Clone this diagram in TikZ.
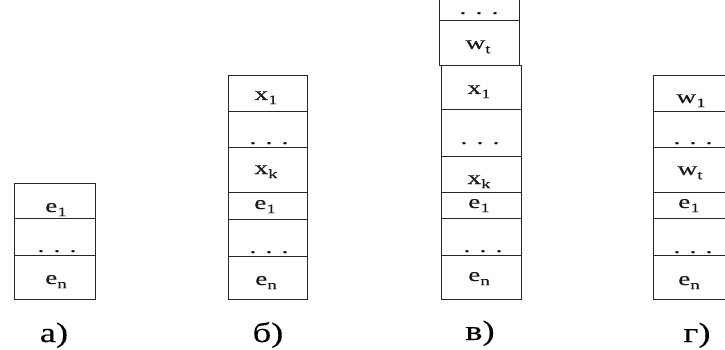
\documentclass[tikz,border=0pt]{standalone}
\usepackage{fontspec}
\setmainfont{Liberation Serif}
\newfontfamily\widefont[FakeStretch=1.45,FakeBold=0.3]{Liberation Serif}
\newfontfamily\capfont[FakeStretch=1.3,FakeBold=0.2]{Liberation Serif}
\newcommand{\sbs}[1]{\raisebox{-0.22em}{\fontsize{13}{13}\selectfont #1}}
\begin{document}
\begin{tikzpicture}[x=1pt,y=-1pt,
  cell/.style={draw=black!85,line width=0.9pt},
  lbl/.style={font=\widefont\fontsize{19}{19}\selectfont,inner sep=0pt,anchor=base,text=black!90},
  figcap/.style={font=\capfont\fontsize{28}{28}\selectfont,inner sep=0pt,anchor=base}]
\useasboundingbox (0,0) rectangle (725,350);
\begin{scope}
\clip (0,0) rectangle (725,350);
% a)
\draw[cell] (14,183) rectangle (95,218);
\draw[cell] (14,218) rectangle (95,255);
\draw[cell] (14,255) rectangle (95,299);
\node[lbl] (a1) at (56,212) {e\sbs{1}};
\node[lbl] (a2) at (57,252) {. . .};
\node[lbl] (a3) at (56,284) {e\sbs{n}};
\node[figcap] (ca) at (54,342) {а)};
% b)
\draw[cell] (228,75) rectangle (307,111);
\draw[cell] (228,111) rectangle (307,147);
\draw[cell] (228,147) rectangle (307,192);
\draw[cell] (228,192) rectangle (307,219);
\draw[cell] (228,219) rectangle (307,256);
\draw[cell] (228,256) rectangle (307,299);
\node[lbl] (b1) at (266,100) {x\sbs{1}};
\node[lbl] (b2) at (269,144) {. . .};
\node[lbl] (b3) at (266,174) {x\sbs{k}};
\node[lbl] (b4) at (265,209) {e\sbs{1}};
\node[lbl] (b5) at (269,253) {. . .};
\node[lbl] (b6) at (266,285) {e\sbs{n}};
\node[figcap] (cb) at (268,342) {б)};
% v)
\draw[cell] (439,-30) rectangle (519,20);
\draw[cell] (439,20) rectangle (519,65);
\draw[cell] (441,65) rectangle (521,109);
\draw[cell] (441,109) rectangle (521,156);
\draw[cell] (441,156) rectangle (521,192);
\draw[cell] (441,192) rectangle (521,218);
\draw[cell] (441,218) rectangle (521,255);
\draw[cell] (441,255) rectangle (521,299);
\node[lbl] (v0) at (479,14) {. . .};
\node[lbl] (v1) at (478,49) {w\sbs{t}};
\node[lbl] (v2) at (479,94) {x\sbs{1}};
\node[lbl] (v3) at (480,144) {. . .};
\node[lbl] (v4) at (479,184) {x\sbs{k}};
\node[lbl] (v5) at (479,208) {e\sbs{1}};
\node[lbl] (v6) at (483,252) {. . .};
\node[lbl] (v7) at (479,281) {e\sbs{n}};
\node[figcap] (cv) at (480,340) {в)};
% g)
\draw[cell] (653,75) rectangle (740,111);
\draw[cell] (653,111) rectangle (740,147);
\draw[cell] (653,147) rectangle (740,192);
\draw[cell] (653,192) rectangle (740,218);
\draw[cell] (653,218) rectangle (740,255);
\draw[cell] (653,255) rectangle (740,299);
\node[lbl] (g1) at (691,103) {w\sbs{1}};
\node[lbl] (g2) at (693,144) {. . .};
\node[lbl] (g3) at (690,175) {w\sbs{t}};
\node[lbl] (g4) at (689,208) {e\sbs{1}};
\node[lbl] (g5) at (693,253) {. . .};
\node[lbl] (g6) at (689,285) {e\sbs{n}};
\node[figcap] (cg) at (697,342) {г)};
\end{scope}
\end{tikzpicture}
\end{document}
